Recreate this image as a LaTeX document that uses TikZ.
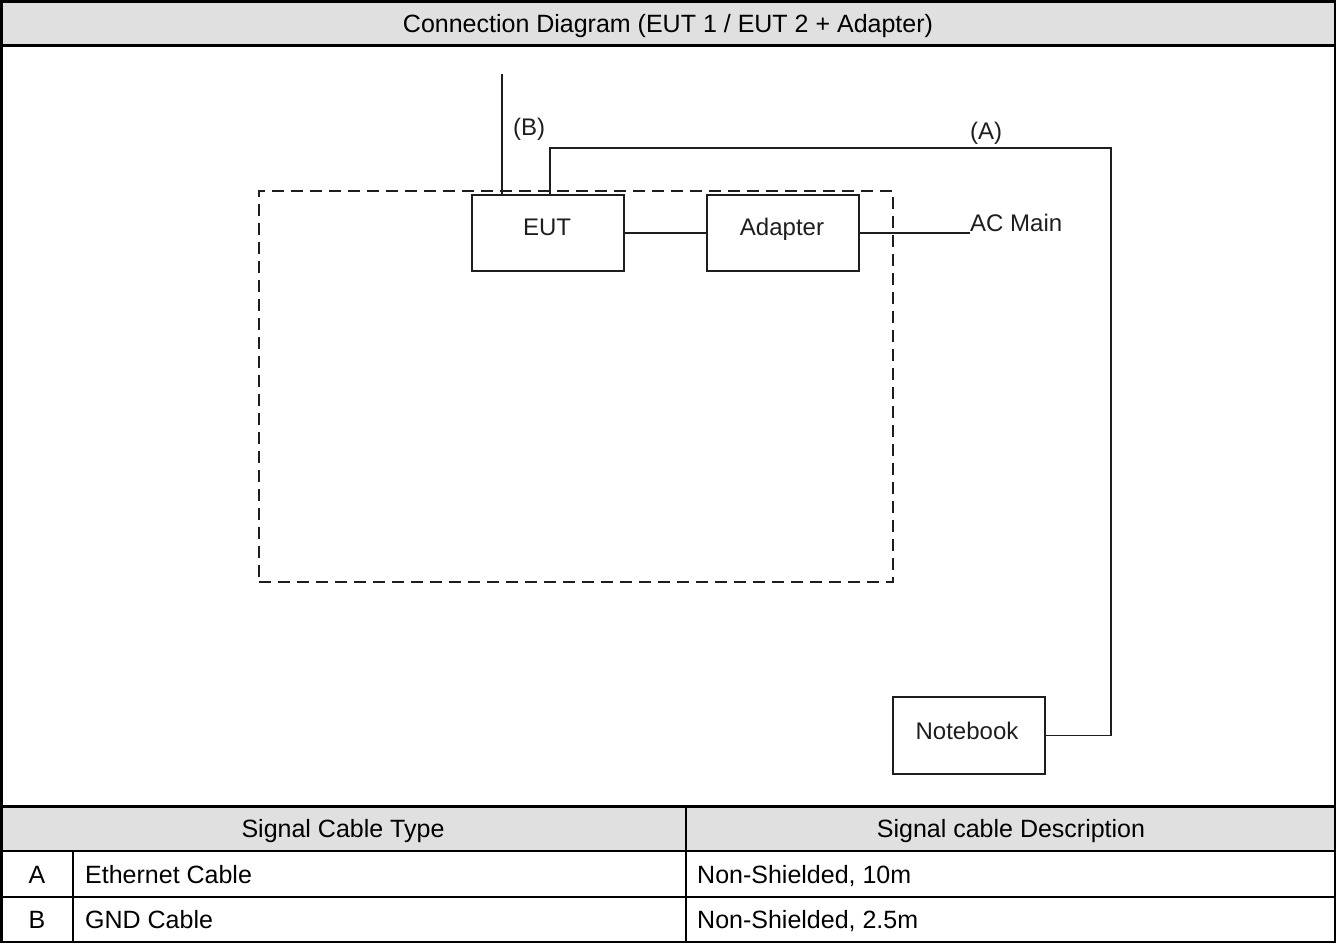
\documentclass[tikz,border=0pt]{standalone}
\usepackage{fontspec}
\setmainfont{Liberation Sans}
\definecolor{hdrgray}{RGB}{224,224,224}
\definecolor{ink}{RGB}{30,30,30}
\begin{document}
\begin{tikzpicture}[x=1pt,y=-1pt,
  devbox/.style={draw=ink, line width=1.6pt, minimum width=152pt, minimum height=76pt, inner sep=0pt, anchor=north west},
  devtext/.style={font=\fontsize{24}{28}\selectfont, inner sep=0pt, text=ink, anchor=base},
  wire/.style={line width=1.6pt, draw=ink},
  cell/.style={font=\fontsize{25}{30}\selectfont, inner sep=0pt, anchor=base},
  cellw/.style={cell, anchor=base west},
  rule/.style={line width=2pt, draw=black},
  thickrule/.style={line width=3pt, draw=black}]
\useasboundingbox (0,0) rectangle (1336,943);
% header fills
\fill[hdrgray] (0,0) rectangle (1336,45);
\fill[hdrgray] (0,806) rectangle (1336,851);
% table rules
\draw[thickrule] (0,45) -- (1336,45);
\draw[thickrule] (0,806) -- (1336,806);
\draw[rule] (0,851) -- (1336,851);
\draw[rule] (0,897) -- (1336,897);
\draw[rule] (686,806) -- (686,943);
\draw[rule] (73,851) -- (73,943);
\draw[line width=2.5pt] (1.25,1.25) rectangle (1334.75,941.75);
% texts of the table
\node[cell] (title) at (668,32) {Connection Diagram (EUT 1 / EUT 2 + Adapter)};
\node[cell] (hType) at (343,837) {Signal Cable Type};
\node[cell] (hDesc) at (1011,837) {Signal cable Description};
\node[cell] (rA) at (37,883) {A};
\node[cellw] (rAtype) at (85,883) {Ethernet Cable};
\node[cellw] (rAdesc) at (697,883) {Non-Shielded, 10m};
\node[cell] (rB) at (37,928) {B};
\node[cellw] (rBtype) at (85,928) {GND Cable};
\node[cellw] (rBdesc) at (697,928) {Non-Shielded, 2.5m};
% dashed enclosure
\node[draw=ink, line width=1.6pt, dash pattern=on 12pt off 7pt, minimum width=634pt, minimum height=391pt, inner sep=0pt, anchor=north west] (room) at (258,190) {};
% devices
\node[devbox] (eut) at (471,194) {};
\node[devtext] (eutlbl) at (547,235) {EUT};
\node[devbox] (adapter) at (706,194) {};
\node[devtext] (adaptlbl) at (782,235) {Adapter};
\node[devbox, minimum height=77pt] (notebook) at (892,696) {};
\node[devtext] (noteblbl) at (967,739) {Notebook};
\node[devtext, anchor=base west] (acmain) at (970,231) {AC Main};
\node[devtext] (labB) at (529,135) {(B)};
\node[devtext] (labA) at (986,139) {(A)};
% connectors
\coordinate (btop) at (502,74);
\coordinate (aturn) at (1111,148);
\draw[wire] (eut.east) -- (adapter.west);
\draw[wire] (adapter.east) -- (adapter.east -| acmain.base west);
\draw[wire] (btop) -- (btop |- eut.north);
\draw[wire] (notebook.east) -| (aturn) -| ([xshift=2pt]eut.north);
\end{tikzpicture}
\end{document}
